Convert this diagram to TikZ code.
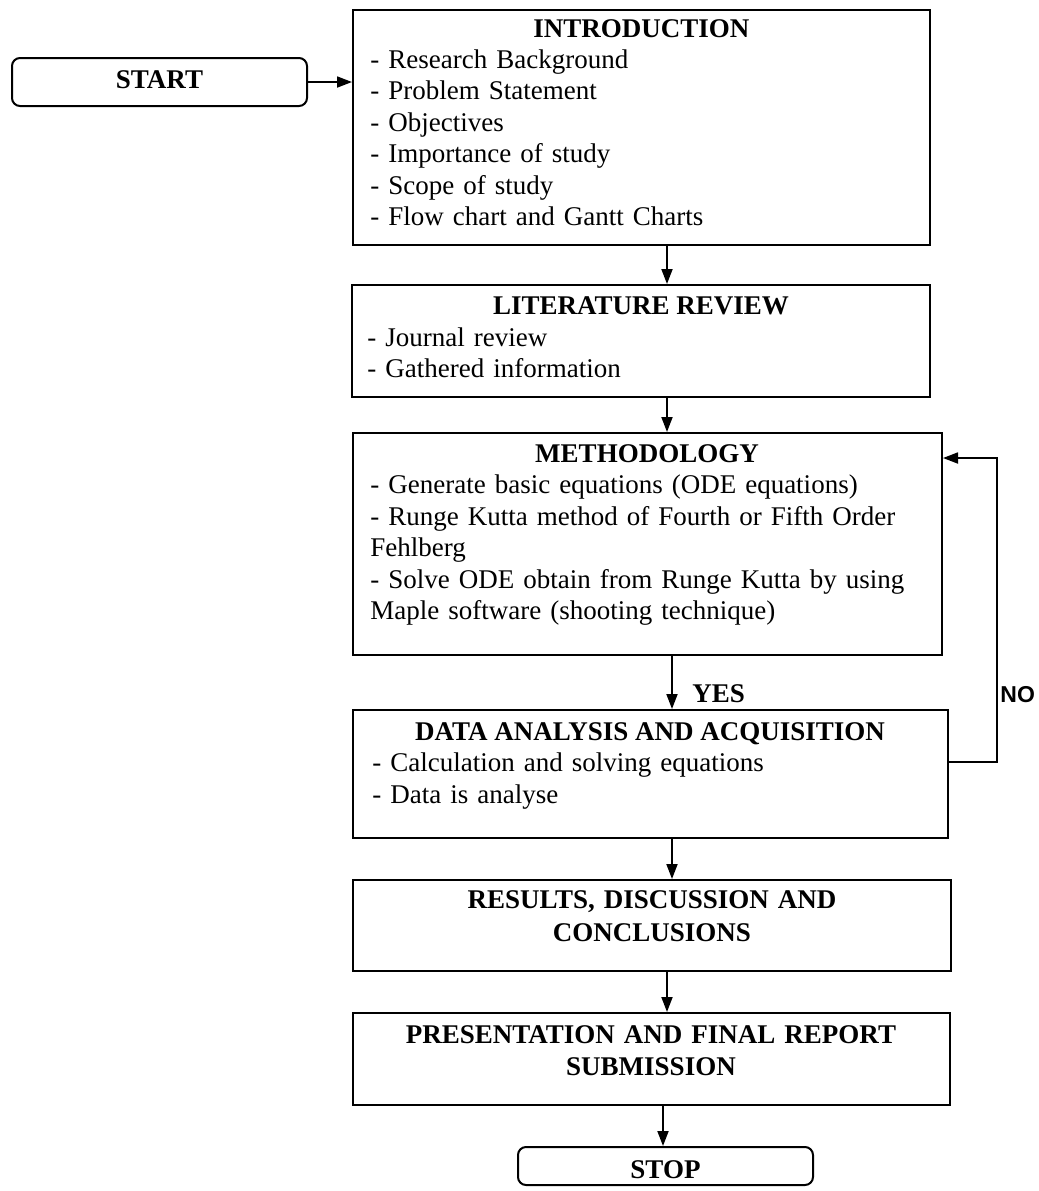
\documentclass[tikz,border=0pt]{standalone}
\usepackage{fontspec}
\setmainfont{Liberation Serif}
\newfontfamily\nofont{Liberation Sans}
\usetikzlibrary{arrows.meta,fit}
\begin{document}
\begin{tikzpicture}[x=0.5pt,y=-0.5pt,
  box/.style={draw, line width=1pt, inner sep=0pt},
  rbox/.style={box, rounded corners=4pt},
  ttl/.style={font=\bfseries\fontsize{13.5pt}{16.5pt}\selectfont, inner sep=0pt, anchor=base},
  ttltwo/.style={ttl, text width=260pt, align=center},
  items/.style={font=\fontsize{13.5pt}{15.75pt}\selectfont, inner sep=0pt, anchor=base west, text width=300pt, align=left},
  arr/.style={-{Triangle[length=7.5pt,width=5.5pt]}, line width=0.9pt}]
\useasboundingbox[fill=white] (0,0) rectangle (1039,1191);
% boxes
\node[rbox, fit={(12,58) (307,106)}] (start) {};
\node[box, fit={(353,10) (930,245)}] (intro) {};
\node[box, fit={(352,285) (930,397)}] (lit) {};
\node[box, fit={(353,433) (942,655)}] (meth) {};
\node[box, fit={(353,710) (948,838)}] (data) {};
\node[box, fit={(353,880) (951,971)}] (res) {};
\node[box, fit={(353,1013) (950,1105)}] (pres) {};
\node[rbox, fit={(518,1147) (813,1185)}] (stop) {};
% texts
\node[ttl] (starttxt) at (159.5,88) {START};
\node[ttl] (introttl) at (641.5,37) {INTRODUCTION};
\node[items] (introitems) at (370,68) {- Research Background\\- Problem Statement\\- Objectives\\- Importance of study\\- Scope of study\\- Flow chart and Gantt Charts};
\node[ttl] (litttl) at (641,314) {LITERATURE REVIEW};
\node[items] (lititems) at (367,346) {- Journal review\\- Gathered information};
\node[ttl] (methttl) at (647,462) {METHODOLOGY};
\node[items] (methitems) at (370,493.5) {- Generate basic equations (ODE equations)\\- Runge Kutta method of Fourth or Fifth Order\\Fehlberg\\- Solve ODE obtain from Runge Kutta by using\\Maple software (shooting technique)};
\node[ttl] (datattl) at (650,740) {DATA ANALYSIS AND ACQUISITION};
\node[items] (dataitems) at (372,771.5) {- Calculation and solving equations\\- Data is analyse};
\node[ttltwo] (resttl) at (652,908) {RESULTS, DISCUSSION AND\\CONCLUSIONS};
\node[ttltwo, font=\bfseries\fontsize{13.5pt}{16pt}\selectfont] (presttl) at (651,1043) {PRESENTATION AND FINAL REPORT\\SUBMISSION};
\node[ttl] (stoptxt) at (665.5,1178) {STOP};
\node[ttl, anchor=base west] (yes) at (692,702) {YES};
\node[font=\nofont\bfseries\fontsize{11.5pt}{12pt}\selectfont, inner sep=0pt, anchor=base west] (nolbl) at (1000,702) {NO};
% helper coordinates
\coordinate (colA) at (667,0);
\coordinate (colB) at (672,0);
\coordinate (colC) at (663,0);
\coordinate (nocol) at (997,0);
\coordinate (noy1) at (0,762);
\coordinate (noy2) at (0,458);
% connectors
\draw[arr] (start.east) -- (start.east -| intro.west);
\draw[arr] (intro.south -| colA) -- (lit.north -| colA);
\draw[arr] (lit.south -| colA) -- (meth.north -| colA);
\draw[arr] (meth.south -| colB) -- (data.north -| colB);
\draw[arr] (data.south -| colB) -- (res.north -| colB);
\draw[arr] (res.south -| colA) -- (pres.north -| colA);
\draw[arr] (pres.south -| colC) -- (stop.north -| colC);
\draw[arr] (data.east |- noy1) -| (nocol |- noy2) -- (meth.east |- noy2);
\end{tikzpicture}
\end{document}
